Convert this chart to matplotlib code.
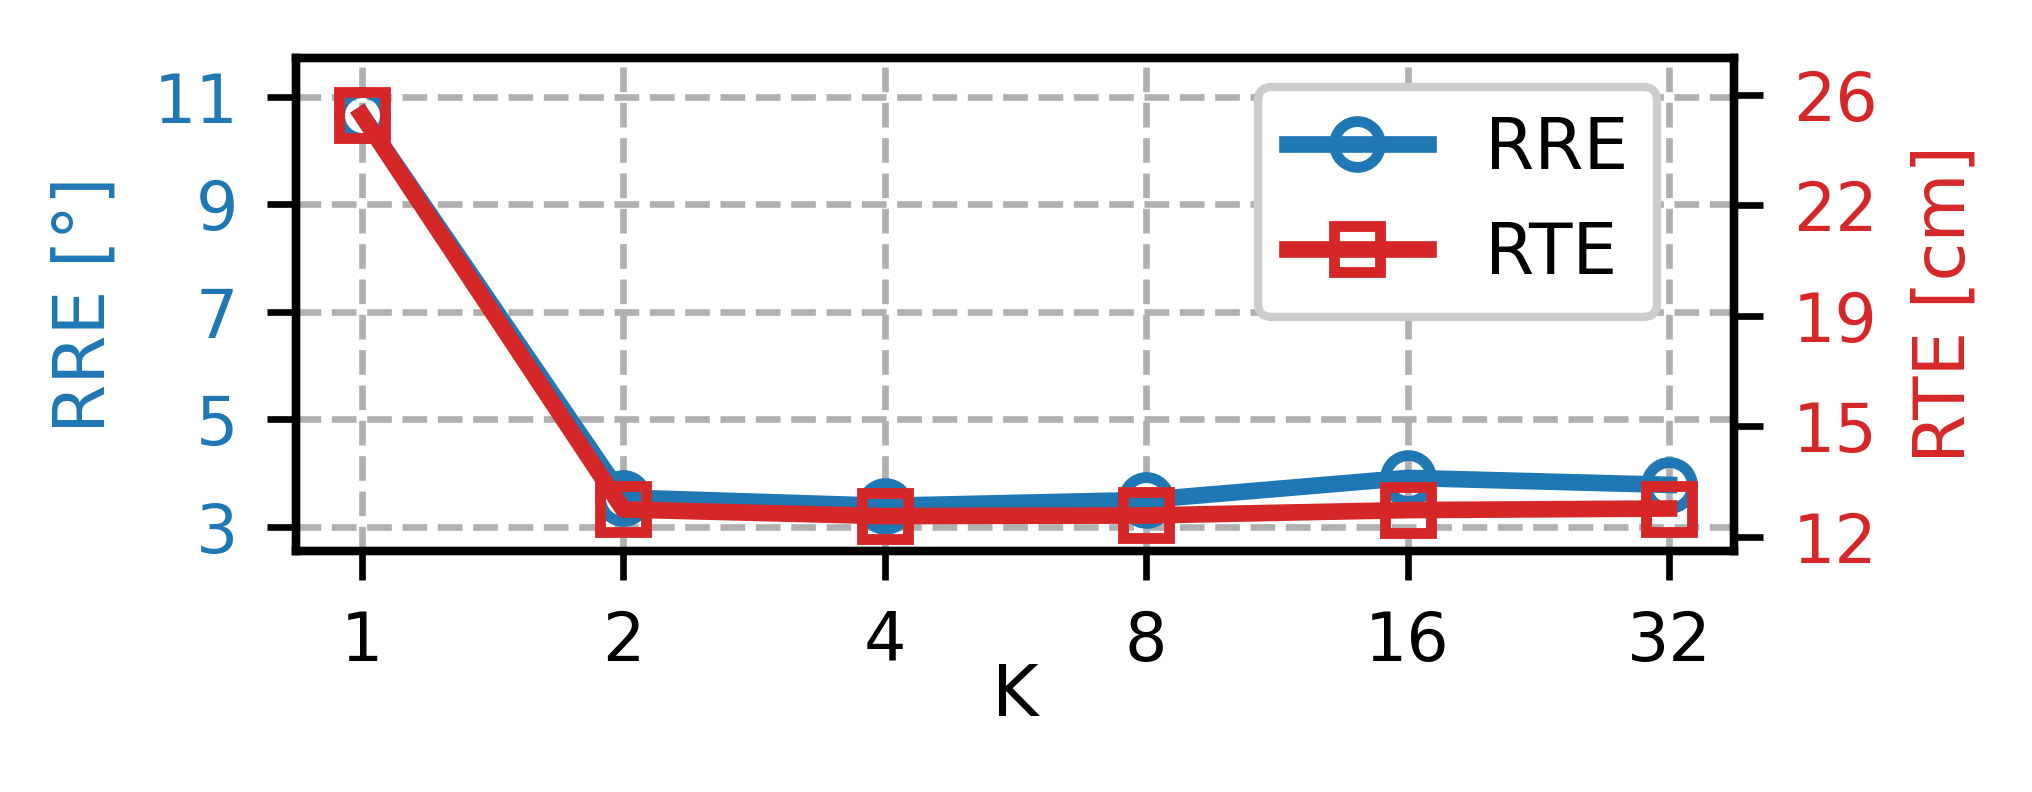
import numpy as np
import matplotlib
matplotlib.use('Agg')
import matplotlib.pyplot as plt

k_labels = ['1', '2', '4', '8', '16', '32']
rre = [10.66, 3.545, 3.39, 3.50, 3.91, 3.78]
rte = [25.36, 12.87, 12.66, 12.68, 12.85, 12.90]

rre_ticks = [3, 5, 7, 9, 11]
rte_ticks = [12, 15.5, 19, 22.5, 26]
rte_ticklabels = ['12', '15', '19', '22', '26']

blue = '#1f77b4'
red = '#d62728'

plt.rcParams['font.size'] = 8
plt.rcParams['axes.linewidth'] = 1.0

fig, ax = plt.subplots(figsize=(2032 / 600, 792 / 600), dpi=600)
fig.subplots_adjust(left=0.1459, right=0.8535, bottom=0.3049, top=0.9264)

x = np.arange(len(k_labels))
l1, = ax.plot(x, rre, color=blue, marker='o', mfc='none', ms=5.5, mew=1.3,
              lw=2, label='RRE')
ax.set_xticks(x)
ax.set_xticklabels(k_labels)
ax.set_xlabel('K', fontsize=8.5, labelpad=-1.5)
ax.set_ylim(2.559, 11.714)
ax.set_yticks(rre_ticks)
ax.set_ylabel('RRE [°]', color=blue, fontsize=8.5)
ax.tick_params(axis='y', labelcolor=blue)
ax.grid(True, linestyle='--', color='#b0b0b0', linewidth=0.8)

ax2 = ax.twinx()
l2, = ax2.plot(x, rte, color=red, marker='s', mfc='none', ms=5.5, mew=1.3,
               lw=2, label='RTE')
ax2.set_ylim(11.57, 27.16)
ax2.set_yticks(rte_ticks)
ax2.set_yticklabels(rte_ticklabels)
ax2.set_ylabel('RTE [cm]', color=red, fontsize=8.5)
ax2.tick_params(axis='y', labelcolor=red)

ax2.legend(handles=[l1, l2], loc='upper right', bbox_to_anchor=(0.946, 0.942),
           borderaxespad=0, fontsize=8.5, handlelength=2.0, framealpha=1)

fig.savefig('out.png', dpi=600)
